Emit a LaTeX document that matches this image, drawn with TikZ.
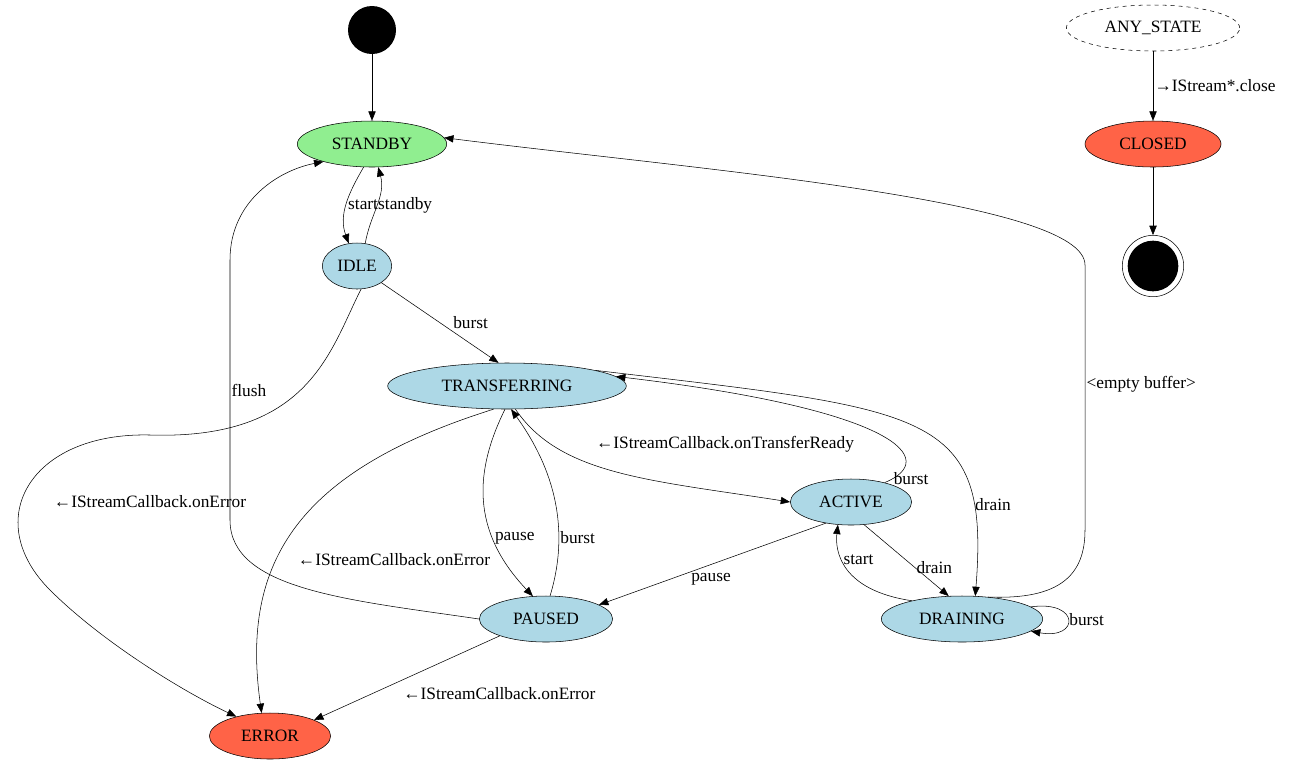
\documentclass[tikz,border=0pt]{standalone}
\usepackage{fontspec}
\setmainfont{Liberation Serif}
\usetikzlibrary{shapes.geometric,arrows.meta}
\tikzset{
  state/.style={draw,ellipse,inner sep=0pt,minimum height=34.5pt,font=\fontsize{13}{15}\selectfont},
  idle/.style={state,fill=lightblue},
  edge/.style={-{Triangle[length=7pt,width=5.5pt]}},
  lbl/.style={font=\fontsize{13}{15}\selectfont,inner sep=1pt}
}
\definecolor{lightblue}{HTML}{ADD8E6}
\definecolor{lightgreen}{HTML}{90EE90}
\definecolor{tomato}{HTML}{FF6347}
\begin{document}
\begin{tikzpicture}[x=0.75pt,y=-0.75pt]
      \useasboundingbox (0,0) rectangle (1316,765);
      \node[circle,fill=black,minimum size=36pt,inner sep=0pt] (init) at (372,30) {};
      \node[state,fill=lightgreen,minimum width=112pt] (standby) at (372,144) {STANDBY};
      \node[idle,minimum width=52pt] (idle) at (357,266) {IDLE};
      \node[idle,minimum width=179pt] (transferring) at (507,386) {TRANSFERRING};
      \node[idle,minimum width=91pt] (active) at (851,502) {ACTIVE};
      \node[idle,minimum width=100pt] (paused) at (546,619) {PAUSED};
      \node[idle,minimum width=121pt] (draining) at (962,619) {DRAINING};
      \node[state,fill=tomato,minimum width=91pt] (error) at (270,736) {ERROR};
      \node[state,dashed,minimum width=130pt] (any) at (1153,28) {ANY\_STATE};
      \node[state,fill=tomato,minimum width=102pt] (closed) at (1153,144) {CLOSED};
      \node[circle,draw,minimum size=46pt,inner sep=0pt] (final) at (1153,266) {};
      \node[circle,fill=black,minimum size=38pt,inner sep=0pt] at (final) {};
      \begin{scope}[edge]
        \draw (init) to (standby);
        \draw (standby.250) to[out=240,in=110] node[lbl,right,pos=0.5] {start} (idle.110);
        \draw (idle.70) to[out=80,in=285] node[lbl,right,pos=0.5] {standby} (standby.285);
        \draw (idle) to node[lbl,above right,pos=0.6] {burst} (transferring.110);
        \draw (idle.280) .. controls (330,350) and (310,440) .. (150,435)
          .. controls (30,432) and (-20,520) .. (50,590)
          node[lbl,pos=0.1,above right] {} .. controls (100,640) and (180,690) .. (error.150);
        \node[lbl] at (150,502) {←IStreamCallback.onError};
        \draw (paused.west) .. controls (350,600) and (230,590) .. (230,520)
          -- (230,260) node[lbl,pos=0.5,right] {flush} .. controls (230,200) and (280,170) .. (standby.200);
        \draw (transferring.240) .. controls (300,470) and (240,560) .. (error.110);
        \node[lbl] at (394,560) {←IStreamCallback.onError};
        \draw (transferring.265) .. controls (475,470) and (470,530) .. node[lbl,right,pos=0.7] {pause} (paused.120);
        \draw (paused.80) .. controls (570,530) and (555,470) .. node[lbl,right,pos=0.3] {burst} (transferring.280);
        \draw (transferring.290) .. controls (560,475) and (650,480) .. (active.west);
        \node[lbl] at (725,444) {←IStreamCallback.onTransferReady};
        \draw (active.30) .. controls (940,460) and (900,410) .. node[lbl,right,pos=0.05] {burst} (transferring.5);
        \draw (transferring.10) .. controls (930,410) and (990,410) .. node[lbl,right,pos=0.8] {drain} (draining.60);
        \draw (active.220) to node[lbl,below right,pos=0.6] {pause} (paused.15);
        \draw (active.300) to node[lbl,right,pos=0.6] {drain} (draining.120);
        \draw (draining.160) .. controls (840,590) and (835,550) .. node[lbl,right,pos=0.6] {start} (active.240);
        \draw (draining.10) .. controls (1080,600) and (1080,640) .. node[lbl,right,pos=0.5] {burst} (draining.350);
        \draw (draining.40) .. controls (1060,600) and (1085,575) .. (1085,530)
          -- (1085,265) node[lbl,pos=0.55,right] {<empty buffer>} .. controls (1085,200) and (700,170) .. (standby.5);
        \draw (paused.200) to node[lbl,below right,pos=0.6,xshift=10pt] {←IStreamCallback.onError} (error.20);
        \draw (any) to node[lbl,right] {→IStream*.close} (closed);
        \draw (closed) to (final);
      \end{scope}
    \end{tikzpicture}
\end{document}
